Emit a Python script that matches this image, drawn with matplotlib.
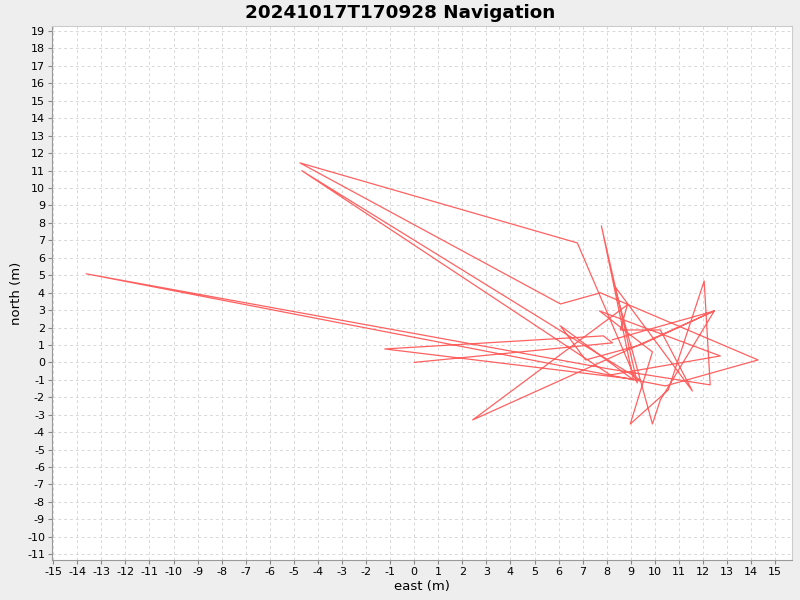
import matplotlib
matplotlib.use("Agg")
import matplotlib.pyplot as plt
from matplotlib.ticker import MultipleLocator

plt.rcParams["axes.unicode_minus"] = False

# Navigation track (east, north) in metres
east = [0.0, 8.24, 7.86, -1.22, 9.40, -4.67, 8.15, 12.72, 7.70, 9.90,
        8.98, 10.56, 12.05, 12.30, 8.07, -13.63, 10.44, 14.29, 7.74, 6.08,
        -4.75, 6.78, 9.27, 7.78, 9.11, 6.08, 7.12, 9.40, 12.47, 2.43,
        8.86, 8.57, 10.23, 11.56, 8.32, 9.90, 10.23, 12.47, 8.24]
north = [0.0, 1.12, 1.52, 0.77, -1.01, 10.99, -0.72, 0.37, 2.95, 0.60,
         -3.53, -1.58, 4.67, -1.29, -0.37, 5.08, -1.35, 0.14, 3.99, 3.35,
         11.44, 6.85, -1.18, 7.83, -1.00, 2.09, 0.14, 1.00, 2.95, -3.30,
         3.30, 1.86, 1.86, -1.64, 4.39, -3.53, -2.15, 2.95, 1.30]

title = "20241017T170928 Navigation"

fig = plt.figure(figsize=(8, 6), dpi=100, facecolor="#eeeeee")
ax = fig.add_axes([0.065, 0.0667, 0.925, 0.89])
ax.set_facecolor("white")

ax.plot(east, north, color="#ff5050", lw=0.9, alpha=0.9)

ax.set_xlim(-15.05, 15.7)
ax.set_ylim(-11.33, 19.29)
ax.xaxis.set_major_locator(MultipleLocator(1))
ax.yaxis.set_major_locator(MultipleLocator(1))
ax.grid(True, color="#d8d8d8", ls=(0, (3, 3)), lw=0.7)
ax.set_axisbelow(True)

ax.tick_params(labelsize=8, length=3, color="#888888", pad=2)
for side in ["left", "bottom"]:
    ax.spines[side].set_color("#999999")
for side in ["top", "right"]:
    ax.spines[side].set_color("#cccccc")

ax.set_xlabel("east (m)", fontsize=9.5, labelpad=2)
ax.set_ylabel("north (m)", fontsize=9.5, labelpad=3)
fig.suptitle(title, fontsize=13.2, fontweight="bold", y=0.993)

fig.savefig("out.png", dpi=100, facecolor=fig.get_facecolor())
